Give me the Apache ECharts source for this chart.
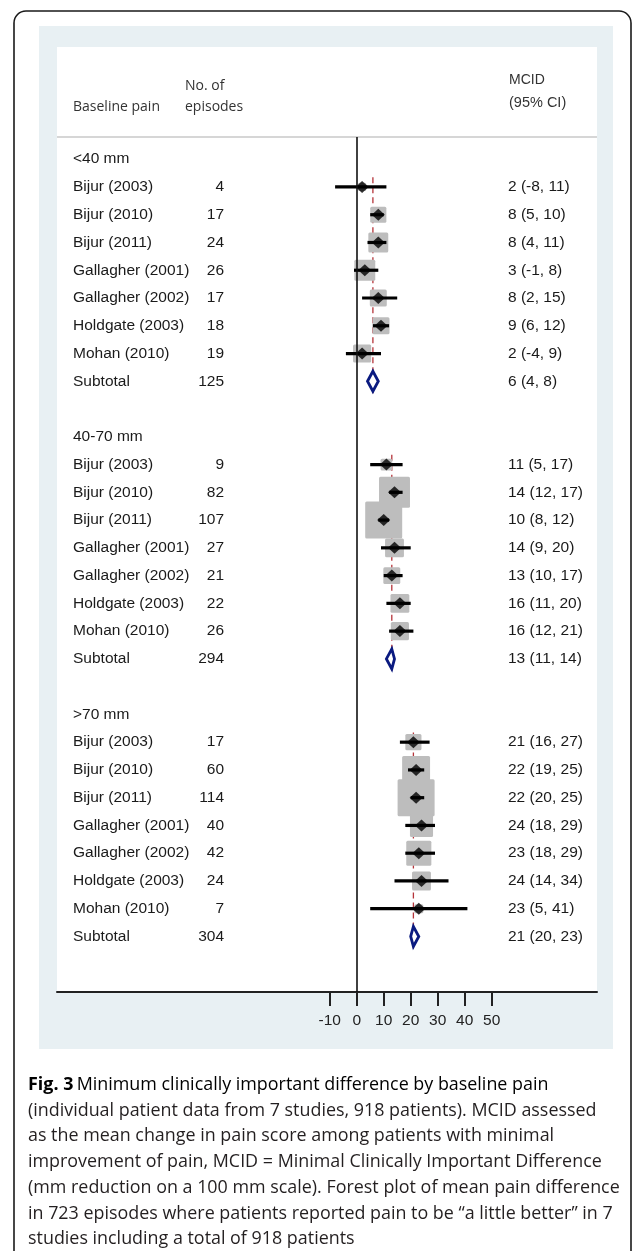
<!DOCTYPE html>
<html>
<head>
<meta charset="utf-8">
<script src="https://cdn.jsdelivr.net/npm/echarts@6/dist/echarts.min.js"></script>
<style>
html,body{margin:0;padding:0;background:#fff;}
#chart{width:633px;height:1251px;}
</style>
</head>
<body>
<div id="chart"></div>
<script>
// ---- data ----
const groups = ['<40 mm', '40-70 mm', '>70 mm'];
const studies = ['Bijur (2003)', 'Bijur (2010)', 'Bijur (2011)', 'Gallagher (2001)', 'Gallagher (2002)', 'Holdgate (2003)', 'Mohan (2010)'];
const episodes = [
  [4, 17, 24, 26, 17, 18, 19],
  [9, 82, 107, 27, 21, 22, 26],
  [17, 60, 114, 40, 42, 24, 7]
];
const subtotalEpisodes = [125, 294, 304];
const mcid = [
  [2, 8, 8, 3, 8, 9, 2],
  [11, 14, 10, 14, 13, 16, 16],
  [21, 22, 22, 24, 23, 24, 23]
];
const ciLow = [
  [-8, 5, 4, -1, 2, 6, -4],
  [5, 12, 8, 9, 10, 11, 12],
  [16, 19, 20, 18, 18, 14, 5]
];
const ciHigh = [
  [11, 10, 11, 8, 15, 12, 9],
  [17, 17, 12, 20, 17, 20, 21],
  [27, 25, 25, 29, 29, 34, 41]
];
const subMcid = [6, 13, 21];
const subLow = [4, 11, 20];
const subHigh = [8, 14, 23];
// relative study weight (largest = 100), estimated from the grey box areas
const boxWeight = [
  [5, 19, 29, 32, 21, 21, 24],
  [10, 70, 100, 26, 21, 26, 24],
  [19, 57, 100, 39, 46, 26, 6]
];
const xTicks = [-10, 0, 10, 20, 30, 40, 50];
const headers = { name: 'Baseline pain', n1: 'No. of', n2: 'episodes', ci1: 'MCID', ci2: '(95% CI)' };
const captionLines = [
  'Minimum clinically important difference by baseline pain',
  '(individual patient data from 7 studies, 918 patients). MCID assessed',
  'as the mean change in pain score among patients with minimal',
  'improvement of pain, MCID = Minimal Clinically Important Difference',
  '(mm reduction on a 100 mm scale). Forest plot of mean pain difference',
  'in 723 episodes where patients reported pain to be \u201ca little better\u201d in 7',
  'studies including a total of 918 patients'
];

// ---- build rows ----
const ROWS_PER_GROUP = 10;
const rows = [];
const studyPts = [];
const subPts = [];
const refLines = [];
groups.forEach((g, gi) => {
  const base = gi * ROWS_PER_GROUP;
  rows.push({ row: base, name: g, n: '', ci: '' });
  studies.forEach((s, si) => {
    const r = base + 1 + si;
    rows.push({ row: r, name: s, n: String(episodes[gi][si]), ci: mcid[gi][si] + ' (' + ciLow[gi][si] + ', ' + ciHigh[gi][si] + ')' });
    studyPts.push([mcid[gi][si], r, ciLow[gi][si], ciHigh[gi][si], boxWeight[gi][si]]);
  });
  const sr = base + 8;
  rows.push({ row: sr, name: 'Subtotal', n: String(subtotalEpisodes[gi]), ci: subMcid[gi] + ' (' + subLow[gi] + ', ' + subHigh[gi] + ')' });
  subPts.push([subMcid[gi], sr, subLow[gi], subHigh[gi]]);
  refLines.push([subMcid[gi], base + 0.65, base + 8.43]);
});

const FONT = 'Liberation Sans, Arial, sans-serif';
const TXT = '#1a1a1a';
const BOX_SCALE = 3.7;

const chart = echarts.init(document.getElementById('chart'), null, { renderer: 'canvas' });

function txt(x, y, text, size, family, fill, align) {
  return { type: 'text', z: 10, x: x, y: y, style: { text: text, fontSize: size, fontFamily: family, fill: fill, verticalAlign: 'middle', align: align || 'left' } };
}

const graphicEls = [
  { type: 'rect', z: -30, shape: { x: 14, y: 11, width: 617, height: 1300, r: 12 }, style: { fill: '#fff', stroke: '#1a1a1a', lineWidth: 1.6 } },
  { type: 'rect', z: -20, shape: { x: 39, y: 26, width: 574, height: 1023 }, style: { fill: '#e8f0f3' } },
  { type: 'rect', z: -10, shape: { x: 57, y: 47, width: 540, height: 945 }, style: { fill: '#ffffff' } },
  { type: 'line', z: -5, shape: { x1: 57, y1: 137, x2: 597, y2: 137 }, style: { stroke: '#c9c9c9', lineWidth: 1.6 } },
  txt(73, 107, headers.name, 14, 'Open Sans, sans-serif', '#333'),
  txt(185, 86, headers.n1, 14, 'Open Sans, sans-serif', '#333'),
  txt(185, 107, headers.n2, 14, 'Open Sans, sans-serif', '#333'),
  txt(509, 80, headers.ci1, 14, FONT, '#333'),
  txt(509, 103, headers.ci2, 14.5, FONT, '#333')
];
captionLines.forEach((line, i) => {
  const y = 1085 + i * 25.7;
  if (i === 0) {
    graphicEls.push({
      type: 'text', z: 10, x: 28, y: y,
      style: {
        text: '{b|Fig. 3} {n|' + line + '}',
        verticalAlign: 'middle',
        rich: {
          b: { fontFamily: 'Open Sans', fontWeight: 'bold', fontSize: 17.9, color: '#231f20' },
          n: { fontFamily: 'Open Sans', fontSize: 17.9, color: '#231f20' }
        }
      }
    });
  } else {
    graphicEls.push(txt(28, y, line, 17.9, 'Open Sans, sans-serif', '#231f20'));
  }
});

const option = {
  animation: false,
  backgroundColor: '#fff',
  graphic: { elements: graphicEls },
  grid: { left: 57, right: 36, top: 137, bottom: 259 },
  xAxis: {
    type: 'value', min: -111, max: 89, position: 'bottom',
    splitLine: { show: false },
    axisLine: { show: true, onZero: false, lineStyle: { color: '#222', width: 2 } },
    axisTick: { show: true, customValues: xTicks, length: 14, lineStyle: { color: '#222', width: 2 } },
    axisLabel: { show: true, customValues: xTicks, margin: 21, fontSize: 15.5, fontFamily: FONT, color: '#222' }
  },
  yAxis: {
    type: 'value', inverse: true, min: -0.8, max: 30,
    show: false, splitLine: { show: false }
  },
  series: [
    {
      name: 'reference', type: 'custom', z: 1, clip: false, silent: true,
      data: refLines,
      renderItem: (params, api) => {
        const a = api.coord([api.value(0), api.value(1)]);
        const b = api.coord([api.value(0), api.value(2)]);
        return { type: 'line', shape: { x1: a[0], y1: a[1], x2: b[0], y2: b[1] }, style: { stroke: '#b5343a', lineWidth: 1.3, lineDash: [6, 4] } };
      },
      markLine: {
        silent: true, symbol: ['none', 'none'], label: { show: false },
        lineStyle: { color: '#111', width: 1.6, type: 'solid' },
        data: [{ xAxis: 0 }]
      }
    },
    {
      name: 'weight', type: 'custom', z: 2, clip: false, silent: true,
      data: studyPts,
      renderItem: (params, api) => {
        const c = api.coord([api.value(0), api.value(1)]);
        const s = BOX_SCALE * Math.sqrt(api.value(4));
        return { type: 'rect', shape: { x: c[0] - s / 2, y: c[1] - s / 2, width: s, height: s, r: 1.5 }, style: { fill: '#bdbdbd' } };
      }
    },
    {
      name: 'CI', type: 'custom', z: 3, clip: false, silent: true,
      data: studyPts,
      renderItem: (params, api) => {
        const a = api.coord([api.value(2), api.value(1)]);
        const b = api.coord([api.value(3), api.value(1)]);
        return { type: 'line', shape: { x1: a[0], y1: a[1], x2: b[0], y2: b[1] }, style: { stroke: '#000', lineWidth: 3.2 } };
      }
    },
    {
      name: 'MCID', type: 'scatter', z: 4, silent: true,
      symbol: 'diamond', symbolSize: [13, 12],
      itemStyle: { color: '#000' },
      data: studyPts.map(p => [p[0], p[1]])
    },
    {
      name: 'Subtotal', type: 'custom', z: 4, clip: false, silent: true,
      data: subPts,
      renderItem: (params, api) => {
        const c = api.coord([api.value(0), api.value(1)]);
        const l = api.coord([api.value(2), api.value(1)]);
        const r = api.coord([api.value(3), api.value(1)]);
        const h = 10;
        return {
          type: 'polygon',
          shape: { points: [[l[0], c[1]], [c[0], c[1] - h], [r[0], c[1]], [c[0], c[1] + h]] },
          style: { fill: '#fff', stroke: '#0a1a80', lineWidth: 2.8 }
        };
      }
    },
    {
      name: 'table', type: 'custom', z: 5, clip: false, silent: true,
      data: rows.map(r => [0, r.row]),
      renderItem: (params, api) => {
        const r = rows[params.dataIndex];
        const y = api.coord([0, api.value(1)])[1];
        const st = (text, align) => ({ text: text, fontSize: 15.5, fontFamily: FONT, fill: TXT, verticalAlign: 'middle', align: align });
        const children = [{ type: 'text', x: 73, y: y, style: st(r.name, 'left') }];
        if (r.n) children.push({ type: 'text', x: 224, y: y, style: st(r.n, 'right') });
        if (r.ci) children.push({ type: 'text', x: 508, y: y, style: st(r.ci, 'left') });
        return { type: 'group', children: children };
      }
    }
  ]
};
chart.setOption(option);
</script>
</body>
</html>
